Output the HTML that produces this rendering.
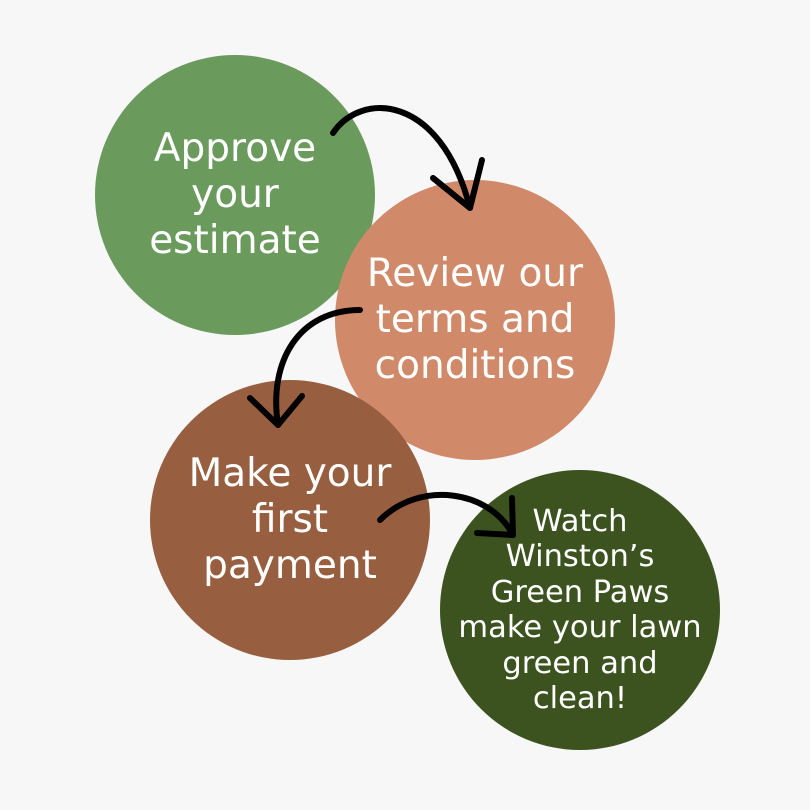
<!DOCTYPE html>
<html><head><style>
html,body{margin:0;padding:0;background:#f7f7f7;}
.c{position:absolute;border-radius:50%;display:flex;align-items:center;justify-content:center;text-align:center;color:#fff;font-family:"DejaVu Sans","Liberation Sans",sans-serif;}
</style></head><body>
<div style="position:relative;width:810px;height:810px;overflow:hidden;background:#f7f7f7">
<div class="c" style="left:95px;top:55px;width:280px;height:280px;background:#6b9a5d;font-size:39px;line-height:46px;">Approve<br>your<br>estimate</div>
<div class="c" style="left:335px;top:180px;width:280px;height:280px;background:#d08a6a;font-size:39px;line-height:46px;">Review our<br>terms and<br>conditions</div>
<div class="c" style="left:150px;top:380px;width:280px;height:280px;background:#975f40;font-size:39px;line-height:46px;">Make your<br>first<br>payment</div>
<div class="c" style="left:440px;top:470px;width:280px;height:280px;background:#3c5320;font-size:30.5px;line-height:35.5px;white-space:nowrap;">Watch<br>Winston’s<br>Green Paws<br>make your lawn<br>green and<br>clean!</div>
<svg width="810" height="810" style="position:absolute;left:0;top:0" fill="none" stroke="#000" stroke-width="6" stroke-linecap="round" stroke-linejoin="round">
<path d="M333 133 C360 92 440 92 470 208"/>
<path d="M433 178 L470 208 L482 160"/>
<path d="M360 310 C300 310 268 360 278 425"/>
<path d="M250 398 L278 425 L302 396"/>
<path d="M380 520 C420 480 490 490 513 535"/>
<path d="M512 498 L513 535 L477 533"/>
</svg>
</div>
</body></html>
